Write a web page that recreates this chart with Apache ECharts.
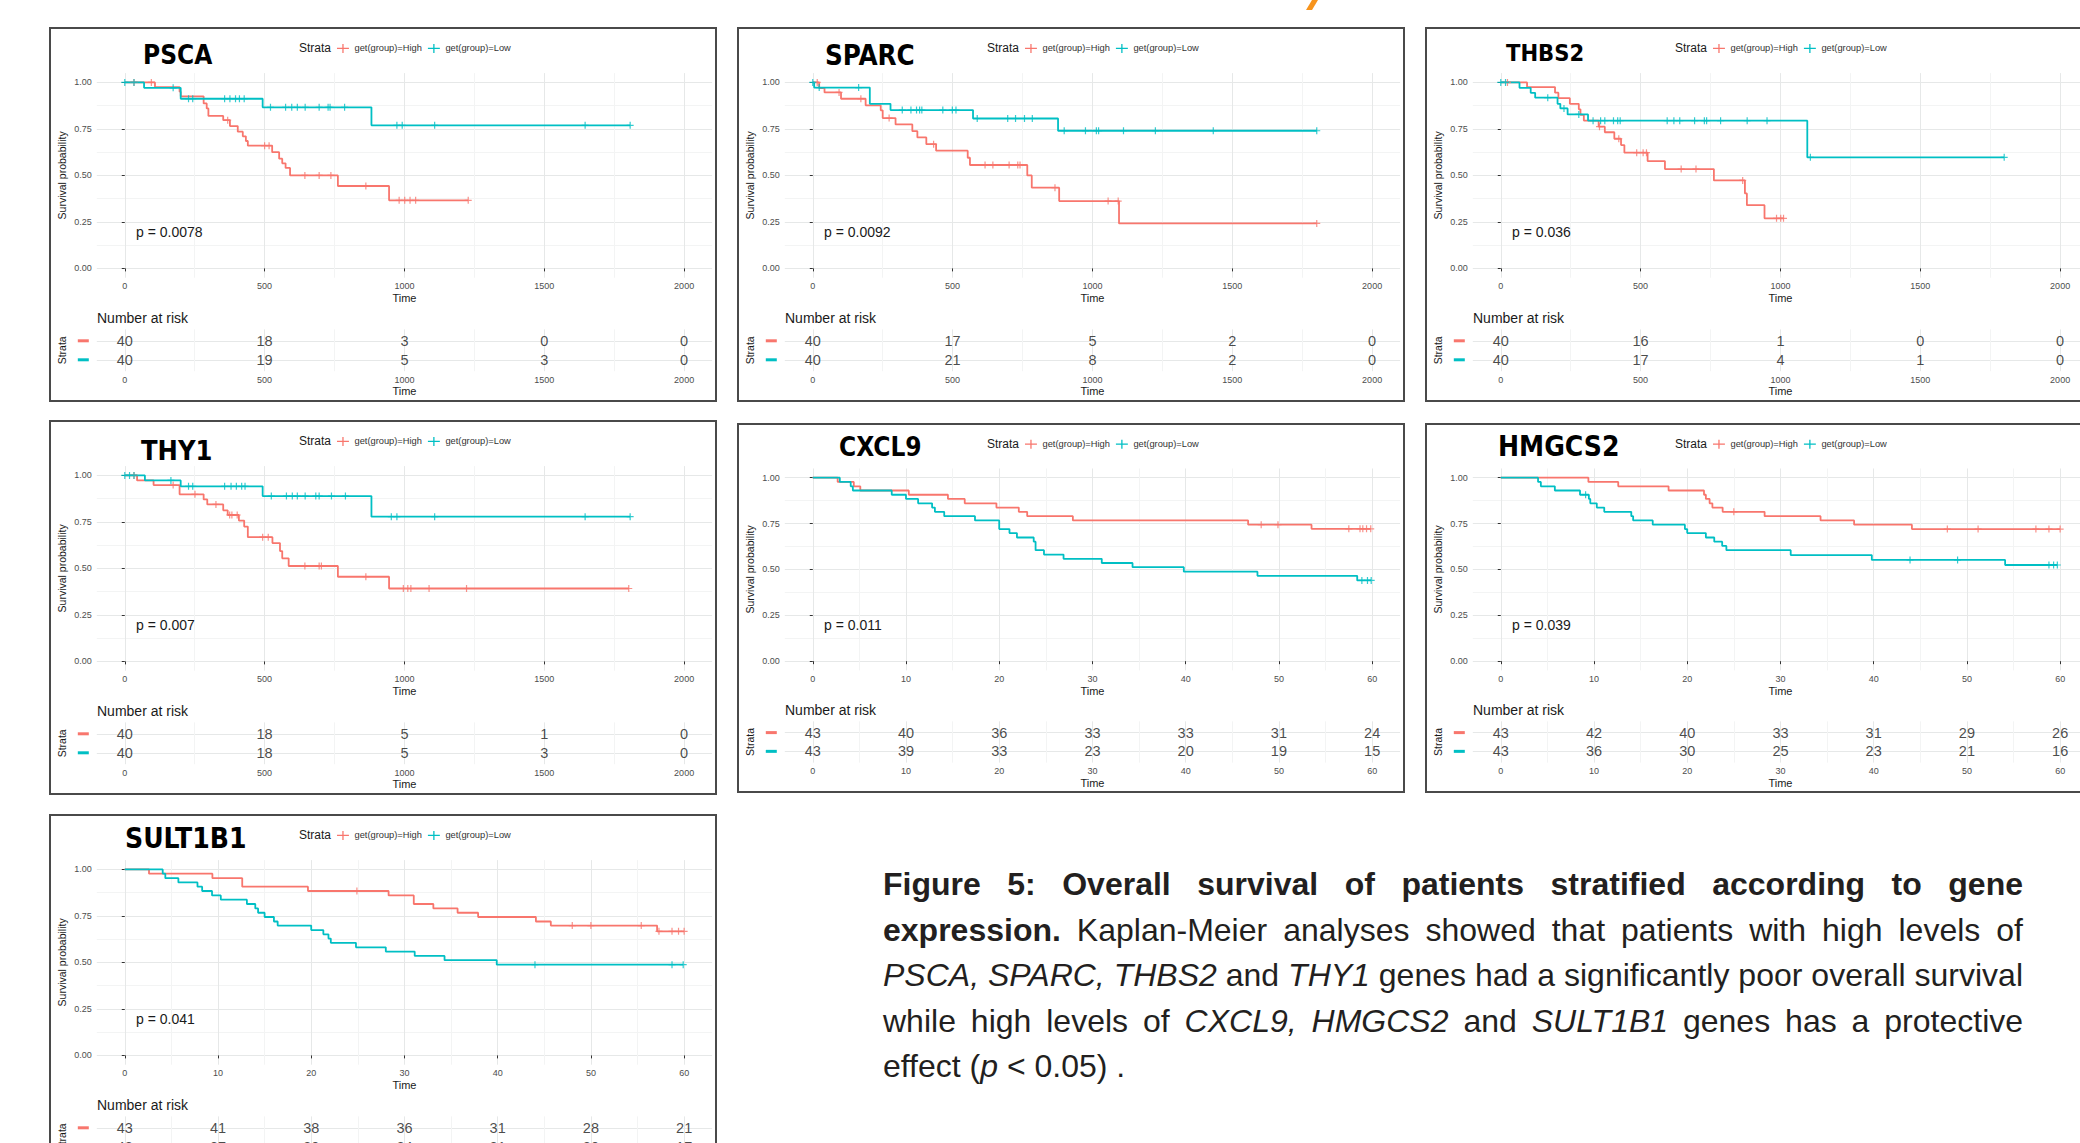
<!DOCTYPE html>
<html><head><meta charset="utf-8">
<script src="https://cdn.jsdelivr.net/npm/echarts@6/dist/echarts.min.js"></script>
<style>
html,body{margin:0;padding:0;background:#fff;}
#chart{position:absolute;left:0;top:0;width:2080px;height:1143px;}
#caption{position:absolute;left:883px;top:862px;width:1140px;font-family:"Liberation Sans",Arial,sans-serif;font-size:32px;line-height:45.5px;color:#231f20;}
#caption .j{text-align:justify;text-align-last:justify;white-space:nowrap;}
#caption .l{text-align:left;white-space:nowrap;}
</style></head>
<body>
<div id="chart"></div>
<div id="caption">
<div class="j"><b>Figure 5: Overall survival of patients stratified according to gene</b></div>
<div class="j"><b>expression.</b> Kaplan-Meier analyses showed that patients with high levels of</div>
<div class="j"><i>PSCA, SPARC, THBS2</i> and <i>THY1</i> genes had a significantly poor overall survival</div>
<div class="j">while high levels of <i>CXCL9, HMGCS2</i> and <i>SULT1B1</i> genes has a protective</div>
<div class="l">effect (<i>p</i> &lt; 0.05) .</div>
</div>
<script>
// ---------------- data ----------------
const GENE_NAMES = ['PSCA','SPARC','THBS2','THY1','CXCL9','HMGCS2','SULT1B1'];
const P_VALUES = ['p = 0.0078','p = 0.0092','p = 0.036','p = 0.007','p = 0.011','p = 0.039','p = 0.041'];
const STRATA = ['get(group)=High','get(group)=Low'];
const DAY_TICKS = [0,500,1000,1500,2000];
const DAY_MINOR = [250,750,1250,1750];
const MONTH_TICKS = [0,10,20,30,40,50,60];
const MONTH_MINOR = [5,15,25,35,45,55];
const Y_TICKS = [0,0.25,0.5,0.75,1];
const Y_MINOR = [0.125,0.375,0.625,0.875];

// PSCA
const PSCA_high_t = [0,108,196,200,282,293,299,352,376,404,422,433,440,527,552,563,575,591,762,945];
const PSCA_high_s = [1,0.975,0.95,0.925,0.887,0.86,0.82,0.797,0.765,0.735,0.71,0.685,0.66,0.625,0.59,0.565,0.54,0.50,0.443,0.366];
const PSCA_high_cens = [33,95,368,500,516,644,695,737,862,981,1001,1020,1040,1228];
const PSCA_low_t = [0,69,200,493,882];
const PSCA_low_s = [1,0.971,0.912,0.866,0.769];
const PSCA_low_cens = [0,33,173,228,243,357,376,396,410,427,521,575,597,617,645,695,727,734,786,973,992,1108,1646,1807];
const PSCA_risk_high = [40,18,3,0,0];
const PSCA_risk_low = [40,19,5,3,0];

// SPARC
const SPARC_high_t = [0,23,42,101,189,243,250,296,356,374,406,441,554,562,767,783,881,1095];
const SPARC_high_s = [1,0.97,0.946,0.912,0.877,0.85,0.808,0.774,0.738,0.704,0.668,0.633,0.595,0.556,0.50,0.434,0.362,0.242];
const SPARC_high_cens = [16,94,172,273,432,616,644,702,733,741,866,1056,1092,1802];
const SPARC_low_t = [0,5,204,278,573,877];
const SPARC_low_s = [1,0.972,0.885,0.851,0.806,0.74];
const SPARC_low_cens = [0,23,164,320,351,371,382,390,465,499,512,588,697,725,757,785,899,975,1014,1022,1111,1225,1432,1802];
const SPARC_risk_high = [40,17,5,2,0];
const SPARC_risk_low = [40,21,8,2,0];

// THBS2
const THBS2_high_t = [0,94,194,206,247,279,285,297,350,372,406,430,442,525,587,762,873,880,943];
const THBS2_high_s = [1,0.975,0.945,0.915,0.885,0.855,0.825,0.795,0.762,0.732,0.697,0.663,0.622,0.577,0.534,0.473,0.403,0.34,0.269];
const THBS2_high_cens = [24,353,422,486,509,521,645,698,865,986,1001,1011];
const THBS2_low_t = [0,67,107,123,203,213,239,312,1096];
const THBS2_low_s = [1,0.971,0.944,0.918,0.885,0.86,0.828,0.794,0.597];
const THBS2_low_cens = [0,17,168,226,279,330,357,372,403,418,427,595,619,640,693,728,736,786,881,952,1107,1800];
const THBS2_risk_high = [40,16,1,0,0];
const THBS2_risk_low = [40,17,4,1,0];

// THY1
const THY1_high_t = [0,44,103,196,282,295,352,368,408,427,440,528,555,563,586,762,945];
const THY1_high_s = [1,0.973,0.948,0.898,0.871,0.844,0.812,0.787,0.757,0.725,0.668,0.636,0.593,0.554,0.513,0.455,0.392];
const THY1_high_cens = [33,173,251,326,375,383,402,493,513,644,695,703,862,996,1012,1023,1088,1222,1802];
const THY1_low_t = [0,72,200,493,882];
const THY1_low_s = [1,0.973,0.941,0.889,0.778];
const THY1_low_cens = [0,17,33,165,228,243,357,380,399,418,430,524,578,599,617,645,683,695,739,789,953,973,1108,1646,1807];
const THY1_risk_high = [40,18,5,1,0];
const THY1_risk_low = [40,18,5,3,0];

// CXCL9
const CXCL9_high_t = [0,2.67,4.4,5.1,10.3,14.5,16.3,19.7,22.1,23.0,27.9,46.7,53.5];
const CXCL9_high_s = [1,0.977,0.953,0.93,0.907,0.884,0.86,0.837,0.814,0.79,0.767,0.744,0.721];
const CXCL9_high_cens = [48.1,49.9,57.5,58.7,59.0,59.4,59.85];
const CXCL9_low_t = [0,2.9,4.07,4.3,8.47,10.0,11.3,12.8,13.1,14.1,17.4,20.0,21.1,21.9,23.7,23.9,24.8,26.9,31.0,34.3,39.8,47.7,58.4];
const CXCL9_low_s = [1,0.977,0.953,0.93,0.907,0.884,0.86,0.837,0.814,0.79,0.767,0.72,0.698,0.674,0.651,0.605,0.581,0.558,0.535,0.512,0.488,0.465,0.44];
const CXCL9_low_cens = [58.9,59.5,59.9];
const CXCL9_risk_high = [43,40,36,33,33,31,24];
const CXCL9_risk_low = [43,39,33,23,20,19,15];

// HMGCS2
const HMGCS2_high_t = [0,9.4,12.6,18.0,21.8,22.0,22.4,22.7,23.8,28.3,34.3,37.9,44.1];
const HMGCS2_high_s = [1,0.977,0.953,0.93,0.907,0.884,0.86,0.837,0.814,0.79,0.767,0.744,0.72];
const HMGCS2_high_cens = [25.0,47.9,51.2,57.4,58.8,60.0];
const HMGCS2_low_t = [0,4.0,4.3,5.8,8.5,9.45,9.6,10.3,11.1,14.0,14.2,16.3,19.75,20.0,22.0,22.9,23.75,24.2,31.1,39.8,54.1];
const HMGCS2_low_s = [1,0.977,0.953,0.93,0.907,0.884,0.86,0.837,0.814,0.79,0.767,0.744,0.72,0.698,0.674,0.651,0.628,0.605,0.578,0.552,0.524];
const HMGCS2_low_cens = [9.1,43.9,49.0,58.8,59.3,59.7];
const HMGCS2_risk_high = [43,42,40,33,31,29,26];
const HMGCS2_risk_low = [43,36,30,25,23,21,16];

// SULT1B1
const SULT1B1_high_t = [0,2.6,9.4,12.6,19.65,28.3,31.0,33.1,35.7,37.9,44.1,45.7,57.1];
const SULT1B1_high_s = [1,0.977,0.953,0.907,0.884,0.86,0.814,0.79,0.767,0.744,0.72,0.698,0.667];
const SULT1B1_high_cens = [24.9,48.0,50.0,55.4,57.3,58.7,59.4,60.0];
const SULT1B1_low_t = [0,4.07,4.35,5.75,7.8,8.3,9.36,10.3,13.1,14.0,14.3,15.0,16.0,16.4,20.0,21.3,21.85,22.1,24.8,28.0,31.1,34.3,39.9];
const SULT1B1_low_s = [1,0.977,0.953,0.93,0.907,0.884,0.86,0.837,0.814,0.79,0.767,0.744,0.72,0.698,0.674,0.651,0.628,0.605,0.581,0.558,0.535,0.512,0.488];
const SULT1B1_low_cens = [44.0,58.7,59.9];
const SULT1B1_risk_high = [43,41,38,36,31,28,21];
const SULT1B1_risk_low = [43,37,30,24,21,20,17];

// ---------------- assembly ----------------
const SERIES_DATA = [
  [PSCA_high_t,PSCA_high_s,PSCA_high_cens,PSCA_low_t,PSCA_low_s,PSCA_low_cens,PSCA_risk_high,PSCA_risk_low],
  [SPARC_high_t,SPARC_high_s,SPARC_high_cens,SPARC_low_t,SPARC_low_s,SPARC_low_cens,SPARC_risk_high,SPARC_risk_low],
  [THBS2_high_t,THBS2_high_s,THBS2_high_cens,THBS2_low_t,THBS2_low_s,THBS2_low_cens,THBS2_risk_high,THBS2_risk_low],
  [THY1_high_t,THY1_high_s,THY1_high_cens,THY1_low_t,THY1_low_s,THY1_low_cens,THY1_risk_high,THY1_risk_low],
  [CXCL9_high_t,CXCL9_high_s,CXCL9_high_cens,CXCL9_low_t,CXCL9_low_s,CXCL9_low_cens,CXCL9_risk_high,CXCL9_risk_low],
  [HMGCS2_high_t,HMGCS2_high_s,HMGCS2_high_cens,HMGCS2_low_t,HMGCS2_low_s,HMGCS2_low_cens,HMGCS2_risk_high,HMGCS2_risk_low],
  [SULT1B1_high_t,SULT1B1_high_s,SULT1B1_high_cens,SULT1B1_low_t,SULT1B1_low_s,SULT1B1_low_cens,SULT1B1_risk_high,SULT1B1_risk_low]
];
// panel frames (layout only)
const LAYOUT = [
  {x:50,  y:28,  h:373, tx:93,  ty:27,   fs:26,   day:true},
  {x:738, y:28,  h:373, tx:87,  ty:27,   fs:27.5, day:true},
  {x:1426,y:28,  h:373, tx:80,  ty:24.5, fs:23.5, day:true},
  {x:50,  y:421, h:373, tx:91,  ty:29,   fs:27,   day:true},
  {x:738, y:424, h:368, tx:101, ty:23,   fs:26,   day:false},
  {x:1426,y:424, h:368, tx:72,  ty:23,   fs:28,   day:false},
  {x:50,  y:815, h:373, tx:75,  ty:23.5, fs:28,   day:false}
];

const FONT = '"Liberation Sans", Arial, Helvetica, sans-serif';
const TITLE_FONT = '"Liberation Sans Narrow", "DejaVu Sans Condensed", "Liberation Sans", sans-serif';
const RED = '#F8766D', TEAL = '#00BFC4';
const MAJ = '#e6e8e8', MIN = '#f3f4f4';
const PLUS = 'path://M2.9,0H4.1V7H2.9Z M0,2.9H7V4.1H0Z';
const LEG_ICON = 'path://M0,4.2H13V5.6H0Z M5.8,0H7.2V9.8H5.8Z';

const grids=[], xAxes=[], yAxes=[], series=[], legends=[], graphics=[];
function stepAt(t, ts, ss){ let v = ss[0]; for (let i=0;i<ts.length;i++){ if (ts[i] <= t) v = ss[i]; } return v; }
function curve(ts, ss, cs){
  const d = ts.map((t,k)=>[t, ss[k]]);
  const last = Math.max.apply(null, cs.concat([ts[ts.length-1]]));
  if (last > ts[ts.length-1]) d.push([last, ss[ss.length-1]]);
  return d;
}
const axisTxt = {fontSize:9, color:'#4d4d4d', fontFamily:FONT};
const nameTxt = {fontSize:11, color:'#1a1a1a', fontFamily:FONT};

LAYOUT.forEach((L, i) => {
  const D = SERIES_DATA[i];
  const S = L.h / 373;
  const left = L.x + 46.8, width = 615.3;
  const majors = L.day ? DAY_TICKS : MONTH_TICKS;
  const minors = L.day ? DAY_MINOR : MONTH_MINOR;
  const xmin = L.day ? -100 : -3, xmax = L.day ? 2100 : 63;
  const allX = majors.concat(minors).sort((a,b)=>a-b);
  const allY = Y_TICKS.concat(Y_MINOR).sort((a,b)=>a-b);

  const gMain = grids.length;
  grids.push({left:left, top:L.y+45.1*S, width:width, height:204.6*S, containLabel:false, outerBoundsMode:'none'});
  const gRisk = grids.length;
  grids.push({left:left, top:L.y+301.4*S, width:width, height:41.8*S, containLabel:false, outerBoundsMode:'none'});

  const xA = xAxes.length;
  xAxes.push({type:'value', gridIndex:gMain, min:xmin, max:xmax, position:'bottom',
    axisLine:{show:false}, axisTick:{show:false, customValues:allX},
    splitLine:{show:true, lineStyle:{color:[MAJ, MIN], width:1}},
    axisLabel:Object.assign({show:true, customValues:majors, margin:4, formatter:v=>String(v)}, axisTxt),
    name:'Time', nameLocation:'middle', nameGap:15, nameTextStyle:nameTxt});
  xAxes.push({type:'value', gridIndex:gMain, min:xmin, max:xmax, position:'bottom',
    axisLine:{show:false}, axisTick:{show:true, customValues:majors, length:3, lineStyle:{color:'#333', width:1}},
    splitLine:{show:false}, axisLabel:{show:false}});
  const xR = xAxes.length;
  xAxes.push({type:'value', gridIndex:gRisk, min:xmin, max:xmax, position:'bottom',
    axisLine:{show:false}, axisTick:{show:false, customValues:allX},
    splitLine:{show:true, lineStyle:{color:[MAJ, MIN], width:1}},
    axisLabel:Object.assign({show:true, customValues:majors, margin:4, formatter:v=>String(v)}, axisTxt),
    name:'Time', nameLocation:'middle', nameGap:14.5, nameTextStyle:nameTxt});

  const yA = yAxes.length;
  yAxes.push({type:'value', gridIndex:gMain, min:-0.05, max:1.05, position:'left',
    axisLine:{show:false}, axisTick:{show:false, customValues:allY},
    splitLine:{show:true, lineStyle:{color:[MAJ, MIN], width:1}},
    axisLabel:Object.assign({show:true, customValues:Y_TICKS, margin:5, formatter:v=>v.toFixed(2)}, axisTxt),
    name:'Survival probability', nameLocation:'middle', nameGap:29, nameTextStyle:{fontSize:10.5, color:'#1a1a1a', fontFamily:FONT}});
  yAxes.push({type:'value', gridIndex:gMain, min:-0.05, max:1.05, position:'left',
    axisLine:{show:false}, axisTick:{show:true, customValues:Y_TICKS, length:3, lineStyle:{color:'#333', width:1}},
    splitLine:{show:false}, axisLabel:{show:false}});
  const yR = yAxes.length;
  yAxes.push({type:'value', gridIndex:gRisk, min:0.4, max:2.6, inverse:true, position:'left',
    axisLine:{show:false}, axisTick:{show:false, customValues:[1,2]},
    splitLine:{show:true, lineStyle:{color:MAJ, width:1}},
    axisLabel:{show:true, customValues:[1,2], margin:8, formatter:v=>(v===1?'{r| }':'{t| }'),
      rich:{r:{width:11, height:3, backgroundColor:RED}, t:{width:11, height:3, backgroundColor:TEAL}}},
    name:'Strata', nameLocation:'middle', nameGap:29, nameTextStyle:{fontSize:10.5, color:'#1a1a1a', fontFamily:FONT}});

  const groups = [[D[0],D[1],D[2],RED,STRATA[0],D[6],1],[D[3],D[4],D[5],TEAL,STRATA[1],D[7],2]];
  groups.forEach(g => {
    const [ts, ss, cs, col, nm, risk, row] = g;
    series.push({type:'line', name:nm, xAxisIndex:xA, yAxisIndex:yA, data:curve(ts, ss, cs), step:'end',
      showSymbol:false, symbol:'none', lineStyle:{color:col, width:1.8}, itemStyle:{color:col}, z:3, silent:true, animation:false});
    series.push({type:'scatter', name:GENE_NAMES[i]+' '+nm+' censored', xAxisIndex:xA, yAxisIndex:yA,
      data:cs.map(t=>[t, stepAt(t, ts, ss)]), symbol:PLUS, symbolSize:7, itemStyle:{color:col}, z:4, silent:true, animation:false});
    series.push({type:'scatter', name:GENE_NAMES[i]+' '+nm+' at risk', xAxisIndex:xR, yAxisIndex:yR,
      data:majors.map((t,k)=>[t, row, risk[k]]), symbolSize:1, itemStyle:{color:'rgba(0,0,0,0)'},
      label:{show:true, position:'inside', formatter:p=>String(p.value[2]), fontSize:14.5, color:'#1a1a1a', fontFamily:FONT},
      silent:true, animation:false});
  });

  legends.push({left:L.x+287, top:L.y+20.4*S-4.5, padding:0, itemWidth:13, itemHeight:9, itemGap:6,
    icon:LEG_ICON, data:STRATA, selectedMode:false, textStyle:{fontSize:9.3, color:'#333', fontFamily:FONT}});

  graphics.push({type:'rect', shape:{x:L.x, y:L.y, width:666, height:L.h}, style:{fill:'none', stroke:'#4a4a4a', lineWidth:2}, z:1, silent:true});
  graphics.push({type:'text', x:L.x+L.tx, y:L.y+L.ty*S, style:{text:GENE_NAMES[i], fontSize:L.fs, fontWeight:'bold', fontFamily:TITLE_FONT, fill:'#000', align:'left', verticalAlign:'middle'}, z:5});
  graphics.push({type:'text', x:L.x+249, y:L.y+20.4*S, style:{text:'Strata', fontSize:12, fontFamily:FONT, fill:'#1a1a1a', align:'left', verticalAlign:'middle'}, z:5});
  graphics.push({type:'text', x:L.x+86, y:L.y+204*S, style:{text:P_VALUES[i], fontSize:14, fontFamily:FONT, fill:'#1a1a1a', align:'left', verticalAlign:'middle'}, z:5});
  graphics.push({type:'text', x:L.x+47, y:L.y+290*S, style:{text:'Number at risk', fontSize:14, fontFamily:FONT, fill:'#1a1a1a', align:'left', verticalAlign:'middle'}, z:5});
});
graphics.push({type:'polygon', shape:{points:[[1312,0],[1318,0],[1312,10],[1306,10]]}, style:{fill:'#F7941D'}, silent:true});

const chart = echarts.init(document.getElementById('chart'), null, {renderer:'svg', width:2080, height:1143});
chart.setOption({
  backgroundColor:'#ffffff',
  animation:false,
  grid:grids, xAxis:xAxes, yAxis:yAxes, series:series, legend:legends, graphic:graphics
});
</script>
</body></html>
